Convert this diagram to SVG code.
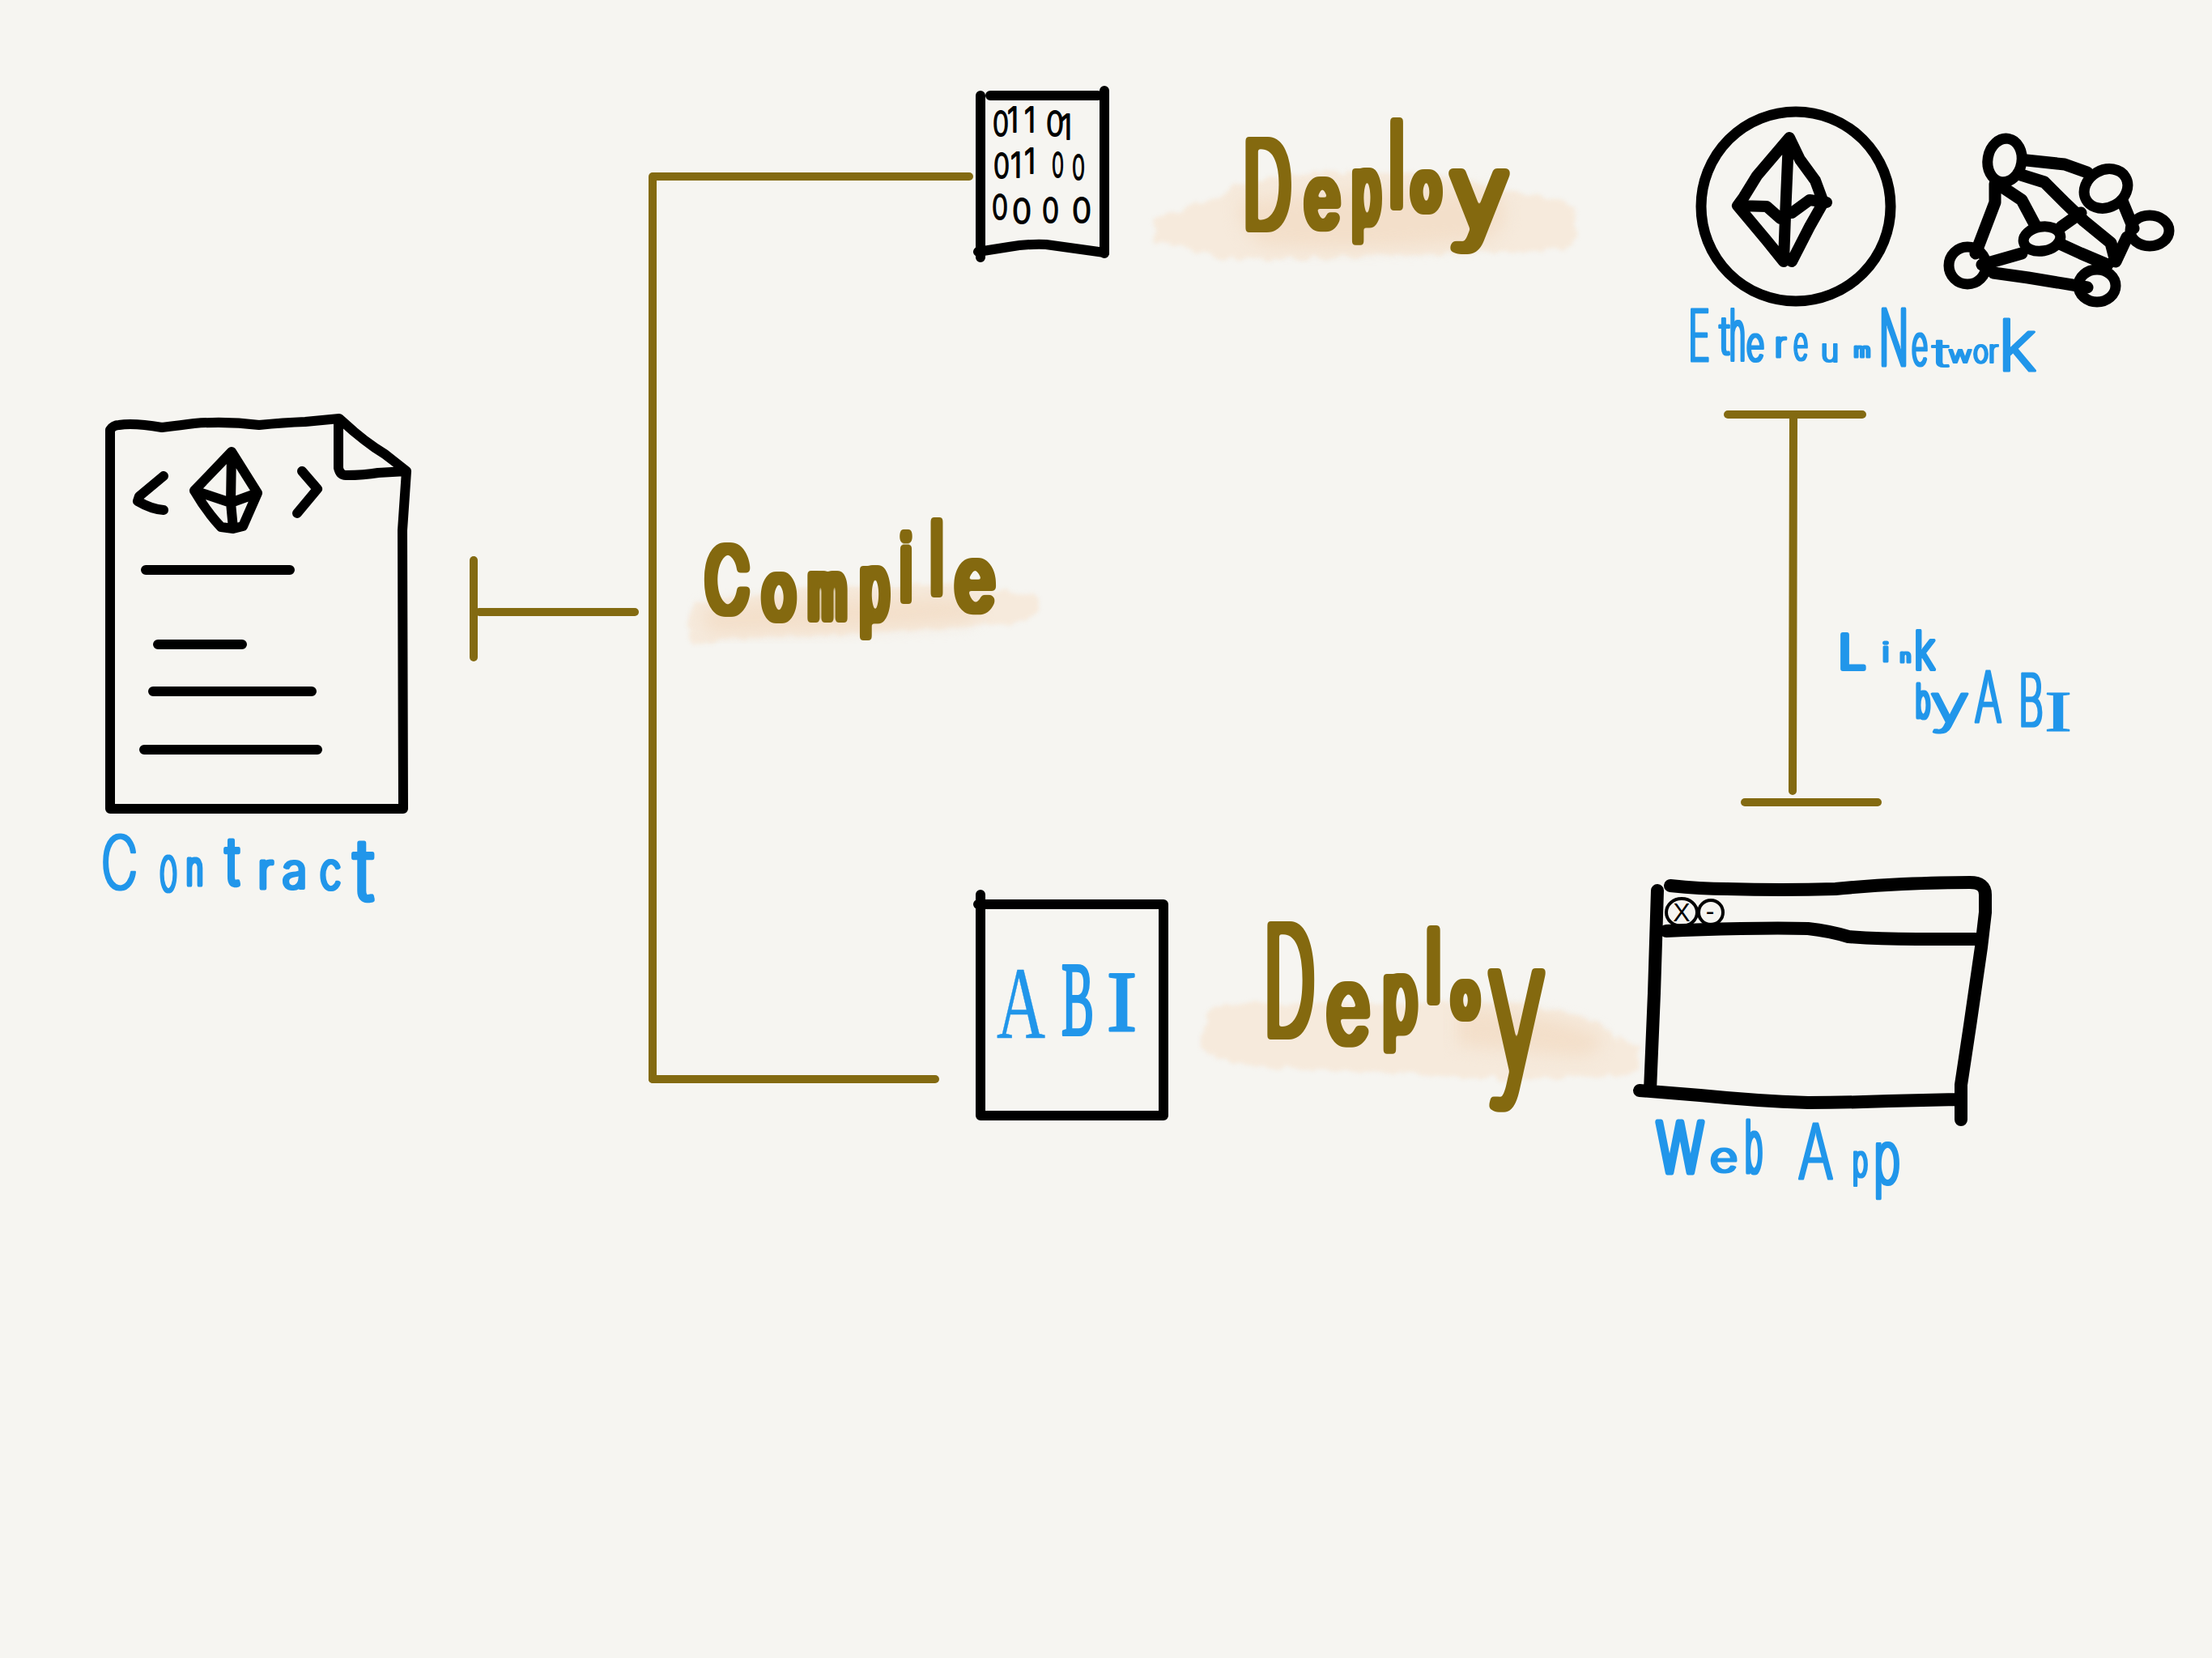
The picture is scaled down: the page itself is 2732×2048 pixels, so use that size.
<svg xmlns="http://www.w3.org/2000/svg" width="2732" height="2048" viewBox="0 0 2732 2048">
<style>
.ink{fill:none;stroke:#000;stroke-linecap:round;stroke-linejoin:round}
.w12{stroke-width:12}.w13{stroke-width:13}.w14{stroke-width:14}.w15{stroke-width:15}.w16{stroke-width:16}
.con{fill:none;stroke:#836a11;stroke-width:10;stroke-linecap:round;stroke-linejoin:round}
.olive{font-family:"Inter","Roboto","Liberation Sans",sans-serif;font-weight:100;fill:#84690f;stroke:#84690f;stroke-width:10;stroke-linejoin:round;stroke-linecap:round;filter:url(#fat)}
.blue{font-family:"Inter","Roboto","Liberation Sans",sans-serif;font-weight:200;fill:#2196ea;stroke:#2196ea;stroke-width:3;stroke-linejoin:round;stroke-linecap:round;filter:url(#fatb)}
.serif{font-family:"Liberation Serif",serif;font-weight:400}
.digit{font-family:"Inter","Roboto","Liberation Sans",sans-serif;font-weight:300;font-size:42px;fill:#000;stroke:#000;stroke-width:2;stroke-linejoin:round}
.hl1{fill:#f6eadc}.hl2{fill:#f3dfca}
</style>
<defs>
<filter id="fat" x="-10%" y="-20%" width="120%" height="140%" color-interpolation-filters="sRGB">
<feMorphology operator="dilate" radius="3.5 0.5"/><feGaussianBlur stdDeviation="1.5"/>
<feComponentTransfer><feFuncA type="linear" slope="4" intercept="-1.5"/></feComponentTransfer>
</filter>
<filter id="fatb" x="-10%" y="-20%" width="120%" height="140%" color-interpolation-filters="sRGB">
<feMorphology operator="dilate" radius="1 0"/>
</filter>
<filter id="soft" x="-10%" y="-30%" width="120%" height="160%" color-interpolation-filters="sRGB">
<feTurbulence type="fractalNoise" baseFrequency="0.06" numOctaves="3" seed="4" result="n"/>
<feDisplacementMap in="SourceGraphic" in2="n" scale="14" xChannelSelector="R" yChannelSelector="G"/>
<feGaussianBlur stdDeviation="2.5"/>
</filter>
<filter id="softer" x="-10%" y="-30%" width="120%" height="160%" color-interpolation-filters="sRGB"><feGaussianBlur stdDeviation="10"/></filter>
</defs>
<rect width="2732" height="2048" fill="#f6f5f1"/>

<g id="highlights">
<path class="hl1" filter="url(#soft)" d="M1424 270Q1480 254 1510 240Q1540 214 1660 214Q1800 212 1860 235Q1920 240 1946 255Q1952 285 1935 308Q1800 312 1700 316Q1600 322 1500 318Q1470 306 1426 298Z"/>
<path class="hl2" filter="url(#softer)" d="M1530 250Q1700 225 1850 240Q1870 270 1840 295Q1700 312 1560 303Q1530 285 1530 250Z"/>
<path class="hl1" filter="url(#soft)" d="M856 745Q1000 725 1160 722Q1240 730 1285 738Q1285 765 1250 772Q1100 778 1000 785Q920 790 854 793Q845 770 856 745Z"/>
<path class="hl2" filter="url(#softer)" d="M870 752Q1000 735 1200 740Q1220 760 1190 768Q1000 780 880 782Q865 770 870 752Z"/>
<path class="hl1" filter="url(#soft)" d="M1500 1240Q1700 1236 1870 1240Q1960 1250 1990 1275Q2000 1285 2022 1292Q2028 1310 2020 1326Q1960 1330 1860 1334Q1700 1322 1570 1320Q1490 1310 1482 1290Q1484 1260 1500 1240Z"/>
<path class="hl2" filter="url(#softer)" d="M1800 1245Q1900 1245 1975 1280Q1985 1295 1955 1305Q1850 1298 1800 1290Z"/>
</g>

<g id="connectors">
<path class="con" d="M806 218V1333"/>
<path class="con" d="M808 218H1197"/>
<path class="con" d="M806 1333H1155"/>
<path class="con" d="M592 756H784"/>
<path class="con" d="M585 692V812"/>
<path class="con" d="M2134 512H2300"/>
<path class="con" d="M2215 514L2214 977"/>
<path class="con" d="M2155 991H2319"/>
</g>

<g id="contract">
<path class="ink w12" d="M136 531V999H498L497 655L502 582M136 531Q140 525 147 525Q165 522 200 528Q225 525 240 523Q280 520 320 525Q350 522 377 521L419 517L437 533Q450 544 463 553Q475 560 487 570L502 582M418 521V578Q420 587 427 587Q450 587 467 584L502 582"/>
<path class="ink w12" d="M202 588L172 613L170 619Q187 629 202 630M373 582L392 604L367 634"/>
<path class="ink w12" d="M286 558L240 606M286 558L318 609M240 606Q255 632 273 651L288 653L300 650L318 609M286 558L285 621L288 653M240 606L285 621L318 609"/>
<path class="ink w12" d="M180 704H358M195 796H299M189 854H385M178 926H392"/>
<text class="blue"><tspan x="125" y="1098" font-size="91" textLength="45" lengthAdjust="spacingAndGlyphs">C</tspan><tspan x="197" y="1101" font-size="80" textLength="22" lengthAdjust="spacingAndGlyphs">o</tspan><tspan x="230" y="1093" font-size="58" textLength="21" lengthAdjust="spacingAndGlyphs" stroke-width="5">n</tspan><tspan x="279" y="1093" font-size="80" textLength="16" lengthAdjust="spacingAndGlyphs" stroke-width="6">t</tspan><tspan x="319" y="1097" font-size="60" textLength="18" lengthAdjust="spacingAndGlyphs" stroke-width="5">r</tspan><tspan x="349" y="1097" font-size="60" textLength="30" lengthAdjust="spacingAndGlyphs" stroke-width="4">a</tspan><tspan x="395" y="1099" font-size="66" textLength="26" lengthAdjust="spacingAndGlyphs" stroke-width="4">c</tspan><tspan x="437" y="1112" font-size="105" textLength="24" lengthAdjust="spacingAndGlyphs" stroke-width="6">t</tspan></text>
</g>

<g id="bytecode">
<path class="ink w12" d="M1211 118V318M1364 112V313M1223 118H1356"/>
<path class="ink w12" d="M1208 311L1246 305Q1270 301 1292 302L1364 312"/>
<text class="digit"><tspan x="1226" y="168" textLength="20" lengthAdjust="spacingAndGlyphs">0</tspan><tspan x="1244" y="163" textLength="14" lengthAdjust="spacingAndGlyphs">1</tspan><tspan x="1265" y="163" textLength="14" lengthAdjust="spacingAndGlyphs">1</tspan><tspan x="1292" y="168" textLength="22" lengthAdjust="spacingAndGlyphs">0</tspan><tspan x="1310" y="172" textLength="14" lengthAdjust="spacingAndGlyphs">1</tspan></text>
<text class="digit"><tspan x="1227" y="220" textLength="20" lengthAdjust="spacingAndGlyphs">0</tspan><tspan x="1248" y="219" textLength="14" lengthAdjust="spacingAndGlyphs">1</tspan><tspan x="1265" y="214" textLength="14" lengthAdjust="spacingAndGlyphs">1</tspan><tspan x="1299" y="219" textLength="15" lengthAdjust="spacingAndGlyphs">0</tspan><tspan x="1324" y="222" textLength="16" lengthAdjust="spacingAndGlyphs">0</tspan></text>
<text class="digit"><tspan x="1225" y="271" textLength="20" lengthAdjust="spacingAndGlyphs">0</tspan><tspan x="1250" y="276" textLength="24" lengthAdjust="spacingAndGlyphs">0</tspan><tspan x="1287" y="275" textLength="21" lengthAdjust="spacingAndGlyphs">0</tspan><tspan x="1324" y="275" textLength="24" lengthAdjust="spacingAndGlyphs">0</tspan></text>
</g>

<g id="abi">
<path class="ink w12" d="M1211 1105V1378H1437V1117H1208"/>
<text class="blue serif" style="filter:none"><tspan x="1231" y="1282" font-size="128" textLength="60" lengthAdjust="spacingAndGlyphs" stroke-width="0.5">A</tspan><tspan x="1311" y="1278" font-size="130" textLength="40" lengthAdjust="spacingAndGlyphs" stroke-width="4">B</tspan><tspan x="1367" y="1273" font-size="106" textLength="37" lengthAdjust="spacingAndGlyphs" stroke-width="3">I</tspan></text>
</g>

<g id="ethereum">
<circle class="ink w13" cx="2218" cy="255" r="117"/>
<path class="ink w14" d="M2210 170L2170 217L2154 243L2146 254L2182 297L2203 323M2210 170L2223 197L2242 223L2252 250L2235 280L2213 323M2209 173L2205 267L2203 323M2146 254L2182 255L2199 270M2256 250L2235 247L2213 263"/>
</g>

<g id="network">
<ellipse class="ink w13" cx="2476" cy="198" rx="21" ry="27" transform="rotate(10 2476 198)"/>
<ellipse class="ink w13" cx="2601" cy="233" rx="28" ry="23" transform="rotate(-30 2601 233)"/>
<ellipse class="ink w13" cx="2655" cy="285" rx="24" ry="19"/>
<ellipse class="ink w13" cx="2522" cy="295" rx="23" ry="15" transform="rotate(-10 2522 295)"/>
<ellipse class="ink w13" cx="2430" cy="328" rx="23" ry="23"/>
<ellipse class="ink w13" cx="2590" cy="353" rx="23" ry="20"/>
<path class="ink w15" d="M2503 198L2550 203L2578 213M2493 215L2525 225L2550 250L2574 273L2607 300L2613 323L2627 293M2464 227V250L2440 313M2476 233L2497 247L2513 277M2621 248L2635 282M2546 280L2570 263M2497 313L2448 327M2546 302L2570 313L2603 327M2462 337L2505 343L2578 355"/>
</g>

<g id="ethereum-network-label">
<text class="blue"><tspan x="2085" y="446" font-size="88" textLength="27" lengthAdjust="spacingAndGlyphs">E</tspan><tspan x="2124" y="438" font-size="65" textLength="12" lengthAdjust="spacingAndGlyphs">t</tspan><tspan x="2136" y="445" font-size="86" textLength="20" lengthAdjust="spacingAndGlyphs" stroke-width="4">h</tspan><tspan x="2157" y="446" font-size="60" textLength="22" lengthAdjust="spacingAndGlyphs">e</tspan><tspan x="2192" y="441" font-size="44" textLength="14" lengthAdjust="spacingAndGlyphs">r</tspan><tspan x="2215" y="445" font-size="60" textLength="18" lengthAdjust="spacingAndGlyphs" stroke-width="2">e</tspan><tspan x="2249" y="447" font-size="40" textLength="22" lengthAdjust="spacingAndGlyphs" stroke-width="2">u</tspan><tspan x="2290" y="441" font-size="23" textLength="20" lengthAdjust="spacingAndGlyphs">m</tspan> <tspan x="2321" y="451" font-size="95" textLength="36" lengthAdjust="spacingAndGlyphs" stroke-width="5">N</tspan><tspan x="2361" y="451" font-size="72" textLength="20" lengthAdjust="spacingAndGlyphs">e</tspan><tspan x="2387" y="453" font-size="48" textLength="20" lengthAdjust="spacingAndGlyphs" stroke-width="2">t</tspan><tspan x="2407" y="448" font-size="28" textLength="28" lengthAdjust="spacingAndGlyphs" stroke-width="2">w</tspan><tspan x="2437" y="448" font-size="40" textLength="19" lengthAdjust="spacingAndGlyphs" stroke-width="2">o</tspan><tspan x="2456" y="448" font-size="40" textLength="12" lengthAdjust="spacingAndGlyphs" stroke-width="2">r</tspan><tspan x="2468" y="458" font-size="88" textLength="47" lengthAdjust="spacingAndGlyphs" stroke-width="3">k</tspan></text>
</g>

<g id="deploy-top">
<text class="olive"><tspan x="1536" y="281" font-size="146" textLength="58" lengthAdjust="spacingAndGlyphs">D</tspan><tspan x="1613" y="279" font-size="99" textLength="40" lengthAdjust="spacingAndGlyphs">e</tspan><tspan x="1671" y="274" font-size="110" textLength="33" lengthAdjust="spacingAndGlyphs">p</tspan><tspan x="1716" y="254" font-size="141" textLength="18" lengthAdjust="spacingAndGlyphs">l</tspan><tspan x="1745" y="258" font-size="79" textLength="33" lengthAdjust="spacingAndGlyphs">o</tspan><tspan x="1792" y="282" font-size="125" textLength="70" lengthAdjust="spacingAndGlyphs">y</tspan></text>
</g>

<g id="compile">
<text class="olive"><tspan x="872" y="755" font-size="107" textLength="52" lengthAdjust="spacingAndGlyphs">C</tspan><tspan x="943" y="763" font-size="93" textLength="38" lengthAdjust="spacingAndGlyphs">o</tspan><tspan x="999" y="763" font-size="95" textLength="46" lengthAdjust="spacingAndGlyphs">m</tspan><tspan x="1063" y="763" font-size="107" textLength="34" lengthAdjust="spacingAndGlyphs">p</tspan><tspan x="1113" y="740" font-size="112" textLength="12" lengthAdjust="spacingAndGlyphs">i</tspan><tspan x="1150" y="732" font-size="119" textLength="14" lengthAdjust="spacingAndGlyphs">l</tspan><tspan x="1181" y="752" font-size="103" textLength="46" lengthAdjust="spacingAndGlyphs">e</tspan></text>
</g>

<g id="deploy-bottom">
<text class="olive"><tspan x="1562" y="1278" font-size="184" textLength="61" lengthAdjust="spacingAndGlyphs">D</tspan><tspan x="1640" y="1286" font-size="123" textLength="50" lengthAdjust="spacingAndGlyphs">e</tspan><tspan x="1709" y="1272" font-size="115" textLength="40" lengthAdjust="spacingAndGlyphs">p</tspan><tspan x="1762" y="1236" font-size="120" textLength="17" lengthAdjust="spacingAndGlyphs">l</tspan><tspan x="1795" y="1255" font-size="73" textLength="30" lengthAdjust="spacingAndGlyphs">o</tspan><tspan x="1838" y="1322" font-size="220" textLength="70" lengthAdjust="spacingAndGlyphs">y</tspan></text>
</g>

<g id="link-by-abi">
<text class="blue"><tspan x="2271" y="826" font-size="58" textLength="33" lengthAdjust="spacingAndGlyphs" stroke-width="6">L</tspan><tspan x="2325" y="817" font-size="32" textLength="8" lengthAdjust="spacingAndGlyphs">i</tspan><tspan x="2347" y="818" font-size="22" textLength="13" lengthAdjust="spacingAndGlyphs" stroke-width="3">n</tspan><tspan x="2364" y="827" font-size="66" textLength="26" lengthAdjust="spacingAndGlyphs" stroke-width="4">k</tspan> <tspan x="2366" y="886" font-size="56" textLength="18" lengthAdjust="spacingAndGlyphs" stroke-width="5">b</tspan><tspan x="2384" y="892" font-size="63" textLength="48" lengthAdjust="spacingAndGlyphs" stroke-width="3">y</tspan> <tspan x="2439" y="892" font-size="87" textLength="33" lengthAdjust="spacingAndGlyphs">A</tspan><tspan x="2493" y="897" font-size="90" textLength="31" lengthAdjust="spacingAndGlyphs" stroke-width="3">B</tspan><tspan class="serif" x="2526" y="903" font-size="72" textLength="32" lengthAdjust="spacingAndGlyphs" stroke-width="1">I</tspan></text>
</g>

<g id="webapp">
<path class="ink w16" d="M2047 1100L2043 1227L2038 1347M2063 1094Q2100 1098 2133 1098Q2200 1100 2267 1098Q2310 1094 2350 1092Q2400 1090 2433 1090Q2452 1090 2452 1105V1127L2447 1170Q2440 1220 2433 1267L2422 1340V1383M2058 1150Q2100 1148 2150 1147Q2200 1146 2233 1147Q2260 1150 2283 1157Q2320 1160 2367 1160L2440 1160M2025 1347L2100 1353Q2170 1360 2233 1362Q2280 1362 2333 1360L2417 1358"/>
<ellipse cx="2077" cy="1127" rx="19" ry="17" fill="none" stroke="#000" stroke-width="4"/>
<circle cx="2113" cy="1127" r="15" fill="none" stroke="#000" stroke-width="4"/>
<text font-family="Liberation Sans, sans-serif" font-size="32" text-anchor="middle" fill="#000"><tspan x="2077" y="1138">X</tspan><tspan x="2112" y="1136">-</tspan></text>
<text class="blue"><tspan x="2046" y="1448" font-size="85" textLength="58" lengthAdjust="spacingAndGlyphs" stroke-width="7">W</tspan><tspan x="2112" y="1447" font-size="50" textLength="34" lengthAdjust="spacingAndGlyphs">e</tspan><tspan x="2155" y="1448" font-size="88" textLength="22" lengthAdjust="spacingAndGlyphs" stroke-width="5">b</tspan> <tspan x="2221" y="1456" font-size="94" textLength="43" lengthAdjust="spacingAndGlyphs">A</tspan><tspan x="2288" y="1453" font-size="55" textLength="19" lengthAdjust="spacingAndGlyphs">p</tspan><tspan x="2314" y="1462" font-size="90" textLength="33" lengthAdjust="spacingAndGlyphs" stroke-width="4">p</tspan></text>
</g>
</svg>
